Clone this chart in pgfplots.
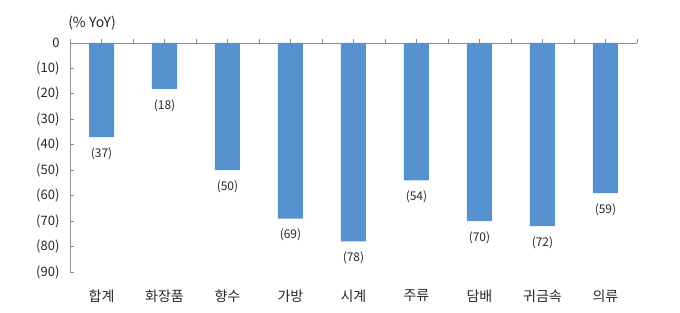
\documentclass[border=0pt]{standalone}
\usepackage{fontspec}
\setmainfont{Noto Sans CJK KR}
\usepackage{pgfplots}
\pgfplotsset{compat=1.18}
\definecolor{barblue}{RGB}{86,146,208}
\definecolor{axgray}{RGB}{140,140,140}
\definecolor{txt}{RGB}{40,40,40}
\begin{document}
\begin{tikzpicture}
\useasboundingbox (0,0) rectangle (680pt,313pt);
\begin{axis}[
  at={(70pt,41pt)}, anchor=south west,
  scale only axis, width=567pt, height=229pt,
  xmin=-0.5, xmax=8.5, ymin=-90, ymax=0,
  axis x line*=top, axis y line*=left,
  axis line style={draw=axgray, line width=0.8pt, -},
  xtick={0,...,8},
  minor xtick={-0.5,0.5,...,8.5},
  xticklabels={합계,화장품,향수,가방,시계,주류,담배,귀금속,의류},
  xtick align=outside,
  major tick length=4pt, minor tick length=4pt,
  x tick style={draw=axgray, line width=0.8pt},
  xticklabel style={font=\fontsize{14}{16}\selectfont, text=txt, anchor=north, yshift=-247pt},
  ytick={-90,-80,...,0},
  yticklabels={(90),(80),(70),(60),(50),(40),(30),(20),(10),0},
  ytick align=inside, ytick pos=left,
  y tick style={draw=axgray, line width=0.8pt},
  yticklabel style={font=\fontsize{13}{15}\selectfont, text=txt, xshift=-7pt},
  ybar, bar width=25pt,
  nodes near coords, point meta=explicit symbolic,
  nodes near coords align=vertical,
  every node near coord/.append style={font=\fontsize{12}{14}\selectfont, text=txt, anchor=north, yshift=-7pt},
  clip=false,
]
\addplot[fill=barblue, draw=none] coordinates {
  (0,-37) [(37)]
  (1,-18) [(18)]
  (2,-50) [(50)]
  (3,-69) [(69)]
  (4,-78) [(78)]
  (5,-54) [(54)]
  (6,-70) [(70)]
  (7,-72) [(72)]
  (8,-59) [(59)]
};
\end{axis}
\node[font=\fontsize{14}{16}\selectfont, text=txt] at (92pt,290pt) {(\% YoY)};
\end{tikzpicture}
\end{document}
